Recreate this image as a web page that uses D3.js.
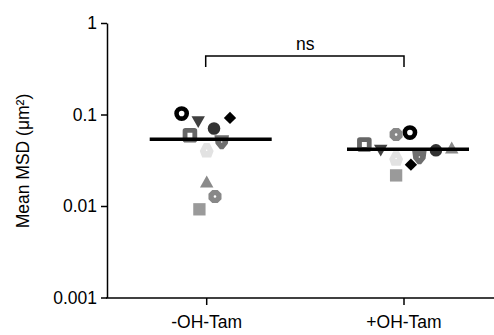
<!DOCTYPE html>
<html><head><meta charset="utf-8">
<script src="https://cdn.jsdelivr.net/npm/d3@7"></script>
<style>body{margin:0;background:#fff}svg{display:block}text{font-family:"Liberation Sans",Arial,sans-serif;fill:#000}</style>
</head><body><svg id="c" width="494" height="335"></svg>
<script>
const categories = ["-OH-Tam", "+OH-Tam"];
const markers = ["ring","triDown","diamond","circle","sqHole","shield","pentagon","triUp","octagon","square"];
const markerColors = ["#000","#404040","#000","#333","#666","#6e6e6e","#e2e2e2","#8a8a8a","#888","#9a9a9a"];
const valuesMinus = [0.1025,0.083,0.0918,0.0703,0.0593,0.0501,0.0406,0.0183,0.0127,0.0092];
const valuesPlus  = [0.0635,0.0406,0.0283,0.0406,0.0469,0.0343,0.033,0.0431,0.0604,0.0216];
const jitterMinus = [-0.127,-0.043,0.118,0.037,-0.085,0.076,0,0,0.042,-0.037];
const jitterPlus  = [0.030,-0.118,0.035,0.162,-0.201,0.078,-0.04,0.242,-0.04,-0.04];
const means = [0.0537,0.0417];
const yTicks = [0.001,0.01,0.1,1];
const yTickLabels = ["0.001","0.01","0.1","1"];
const sigLabel = "ns";
const yLabel = "Mean MSD (\u03bcm\u00b2)";

const FS = "17.5px";
const svg = d3.select("#c");
const x = d3.scaleLinear().domain([0,1]).range([206.7,404]);
const y = d3.scaleLog().domain([0.001,1]).range([297.5,23]);

// axes
const yAxis = d3.axisLeft(y).tickValues(yTicks).tickFormat((d,i)=>yTickLabels[i]).tickSize(6).tickPadding(4).tickSizeOuter(0);
const gy = svg.append("g").attr("transform","translate(107,0)").call(yAxis);
gy.select(".domain").attr("stroke-width",1.5);
gy.selectAll(".tick line").attr("stroke-width",1.5);
gy.selectAll(".tick text").style("font-size",FS).attr("fill","#000");

const gx = svg.append("g").attr("transform","translate(0,298)");
gx.append("line").attr("x1",106).attr("x2",494).attr("stroke","#000").attr("stroke-width",1.5);
categories.forEach((c,i)=>{
  gx.append("line").attr("x1",x(i)).attr("x2",x(i)).attr("y1",0).attr("y2",7).attr("stroke","#000").attr("stroke-width",1.5);
  gx.append("text").attr("x",x(i)).attr("y",30).attr("text-anchor","middle").style("font-size",FS).text(c);
});

svg.append("text").attr("transform","translate(29,161) rotate(-90)").attr("text-anchor","middle").style("font-size",FS).text(yLabel);

// marker paths
function shapePath(t){
  switch(t){
    case "ring": return "M6.6,0A6.6,6.6 0 1,1 -6.6,0A6.6,6.6 0 1,1 6.6,0Z M2.5,0A2.5,2.5 0 1,0 -2.5,0A2.5,2.5 0 1,0 2.5,0Z";
    case "triDown": return "M-6,-5L6,-5L0,5.5Z";
    case "diamond": return "M0,-5.5L5.5,0L0,5.5L-5.5,0Z";
    case "circle": return "M5.6,0A5.6,5.6 0 1,1 -5.6,0A5.6,5.6 0 1,1 5.6,0Z";
    case "sqHole": return "M-4,-6.5H4Q6.5,-6.5 6.5,-4V4Q6.5,6.5 4,6.5H-4Q-6.5,6.5 -6.5,4V-4Q-6.5,-6.5 -4,-6.5Z M-2.2,-2.2V2.2H2.2V-2.2Z";
    case "shield": return "M-6.5,-6H6.5L5.5,1.5L1.5,6.5H-1.5L-5.5,1.5Z M0.7,0A0.7,0.7 0 1,0 -0.7,0A0.7,0.7 0 1,0 0.7,0Z";
    case "pentagon": return "M-2.5,-6.5H2.5L6.2,0.5L4,6.5H-4L-6.2,0.5Z M0.7,0A0.7,0.7 0 1,0 -0.7,0A0.7,0.7 0 1,0 0.7,0Z";
    case "triUp": return "M0,-5.8L6,5L-6,5Z";
    case "octagon": { const r=6.3; let p=""; for(let k=0;k<8;k++){const a=Math.PI/8+k*Math.PI/4; p+=(k?"L":"M")+(r*Math.cos(a)).toFixed(2)+","+(r*Math.sin(a)).toFixed(2);} return p+"Z M1.2,0A1.2,1.2 0 1,0 -1.2,0A1.2,1.2 0 1,0 1.2,0Z"; }
    case "square": return "M-5.5,-5.5H5.5V5.5H-5.5Z";
  }
}
const scaleFactor = 1.12;

const groups = [
  {vals: valuesMinus, jit: jitterMinus, idx:0},
  {vals: valuesPlus, jit: jitterPlus, idx:1}
];
groups.forEach(g=>{
  svg.append("g").selectAll("path").data(g.vals.map((v,i)=>({v,i})))
    .join("path")
    .attr("d",d=>shapePath(markers[d.i]))
    .attr("fill",d=>markerColors[d.i])
    .attr("fill-rule","evenodd")
    .attr("transform",d=>`translate(${x(g.idx+g.jit[d.i])},${y(d.v)}) scale(${scaleFactor})`);
});

// mean lines
means.forEach((m,i)=>{
  svg.append("line").attr("x1",x(i)-57).attr("x2",x(i)+65).attr("y1",y(m)).attr("y2",y(m))
    .attr("stroke","#000").attr("stroke-width",3.5);
});

// significance bracket
const by = 56;
svg.append("path").attr("d",`M${x(0)-1},67V${by}H${x(1)}V67`).attr("fill","none").attr("stroke","#000").attr("stroke-width",1.5);
svg.append("text").attr("x",(x(0)+x(1))/2).attr("y",by-6).attr("text-anchor","middle").style("font-size",FS).text(sigLabel);
</script></body></html>
